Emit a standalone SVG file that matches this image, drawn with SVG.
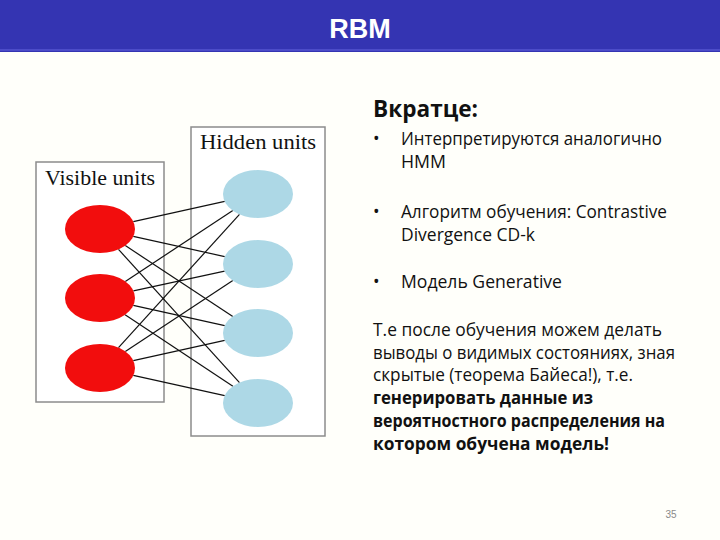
<svg xmlns="http://www.w3.org/2000/svg" width="720" height="540" viewBox="0 0 720 540">
<style>
.box{fill:#ffffff;stroke:#8c8c8c;stroke-width:1.5}
.vis{fill:#f20d0d}
.hid{fill:#add8e6}
.lbl{font-family:"Liberation Serif","DejaVu Serif",serif;font-size:21px;fill:#111}
.edge line{stroke:#111;stroke-width:1.2}
.t{font-family:"Open Sans","Noto Sans","Liberation Sans",sans-serif;font-size:17.5px;fill:#111}
.b{font-weight:bold}
.h{font-size:24px}
</style>
<rect x="0" y="0" width="720" height="540" fill="#fffffa"/>
<g id="header">
<rect x="0" y="0" width="720" height="52" fill="#3434b2"/>
<rect x="0" y="49" width="720" height="2" fill="#4c4cc8"/>
<text x="360" y="38" text-anchor="middle" font-family="Liberation Sans,Arial,sans-serif" font-weight="bold" font-size="27" fill="#ffffff">RBM</text>
</g>
<g id="visible-box">
<rect class="box" x="36" y="162" width="128" height="240"/>
<text class="lbl" x="45" y="185" textLength="110" lengthAdjust="spacingAndGlyphs">Visible units</text>
</g>
<g id="hidden-box">
<rect class="box" x="191" y="127" width="134" height="309"/>
<text class="lbl" x="200" y="149" textLength="116" lengthAdjust="spacingAndGlyphs">Hidden units</text>
</g>
<g class="edge" id="connectors">
<line x1="133.3" y1="221.6" x2="224.7" y2="201.4"/>
<line x1="133.3" y1="236.4" x2="224.7" y2="256.6"/>
<line x1="125.3" y1="245.6" x2="232.8" y2="316.4"/>
<line x1="118.5" y1="249.4" x2="239.5" y2="382.6"/>
<line x1="125.3" y1="281.4" x2="232.8" y2="210.6"/>
<line x1="133.4" y1="290.8" x2="224.6" y2="271.2"/>
<line x1="133.3" y1="305.4" x2="224.7" y2="325.6"/>
<line x1="125.1" y1="314.7" x2="232.9" y2="386.3"/>
<line x1="118.5" y1="347.6" x2="239.5" y2="214.4"/>
<line x1="125.3" y1="351.4" x2="232.8" y2="280.6"/>
<line x1="133.3" y1="360.6" x2="224.7" y2="340.4"/>
<line x1="133.3" y1="375.4" x2="224.7" y2="395.6"/>
</g>
<g id="v1"><ellipse class="vis" cx="100" cy="229" rx="35" ry="24"/></g>
<g id="v2"><ellipse class="vis" cx="100" cy="298" rx="35" ry="24"/></g>
<g id="v3"><ellipse class="vis" cx="100" cy="368" rx="35" ry="24"/></g>
<g id="h1"><ellipse class="hid" cx="258" cy="194" rx="35" ry="24"/></g>
<g id="h2"><ellipse class="hid" cx="258" cy="264" rx="35" ry="24"/></g>
<g id="h3"><ellipse class="hid" cx="258" cy="333" rx="35" ry="24"/></g>
<g id="h4"><ellipse class="hid" cx="258" cy="403" rx="35" ry="24"/></g>
<g id="summary">
<text class="t b h" x="373" y="117" textLength="105" lengthAdjust="spacingAndGlyphs">Вкратце:</text>
<text class="t" x="373" y="145">•</text>
<text class="t" x="401" y="145" textLength="261" lengthAdjust="spacingAndGlyphs">Интерпретируются аналогично</text>
<text class="t" x="401" y="168" textLength="45" lengthAdjust="spacingAndGlyphs">HMM</text>
<text class="t" x="373" y="218">•</text>
<text class="t" x="401" y="218" textLength="266" lengthAdjust="spacingAndGlyphs">Алгоритм обучения: Contrastive</text>
<text class="t" x="401" y="241" textLength="134" lengthAdjust="spacingAndGlyphs">Divergence CD-k</text>
<text class="t" x="373" y="288">•</text>
<text class="t" x="401" y="288" textLength="161" lengthAdjust="spacingAndGlyphs">Модель Generative</text>
<text class="t" x="373" y="336" textLength="289" lengthAdjust="spacingAndGlyphs">Т.е после обучения можем делать</text>
<text class="t" x="373" y="359" textLength="302" lengthAdjust="spacingAndGlyphs">выводы о видимых состояниях, зная</text>
<text class="t" x="373" y="381" textLength="260" lengthAdjust="spacingAndGlyphs">скрытые (теорема Байеса!), т.е.</text>
<text class="t b" x="373" y="404" textLength="220" lengthAdjust="spacingAndGlyphs">генерировать данные из</text>
<text class="t b" x="373" y="427" textLength="292" lengthAdjust="spacingAndGlyphs">вероятностного распределения на</text>
<text class="t b" x="373" y="450" textLength="236" lengthAdjust="spacingAndGlyphs">котором обучена модель!</text>
</g>
<text x="671" y="518" text-anchor="middle" font-family="Liberation Sans,Arial,sans-serif" font-size="10" fill="#8a8a8a">35</text>
</svg>
